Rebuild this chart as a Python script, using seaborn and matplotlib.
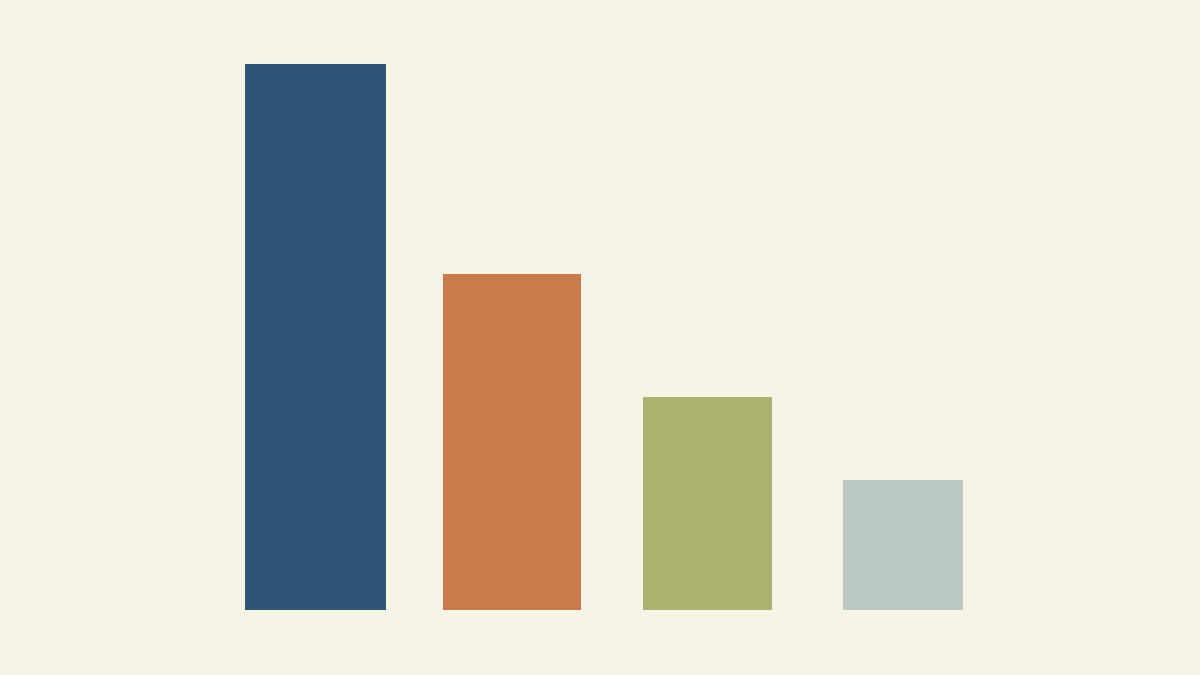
import matplotlib
matplotlib.use("Agg")
import matplotlib.pyplot as plt
import seaborn as sns
import pandas as pd

categories = ["A", "B", "C", "D"]
values = [100, 61.5, 39, 23.8]
colors = ["#2E5578", "#C97C48", "#ABB26F", "#BAC7C4"]
bar_widths = [0.72, 0.705, 0.654, 0.613]

bg = "#F6F3E7"
sns.set_theme(style="white")
df = pd.DataFrame({"cat": categories, "val": values})

fig = plt.figure(figsize=(12, 6.75), dpi=100, facecolor=bg)
ax = fig.add_axes([0, 0, 1, 1])
ax.set_facecolor(bg)
sns.barplot(data=df, x="cat", y="val", hue="cat", palette=colors,
            order=categories, hue_order=categories, legend=False,
            width=0.67, linewidth=0, saturation=1, ax=ax)

for p, w in zip(ax.patches, bar_widths):
    c = p.get_x() + p.get_width() / 2
    p.set_width(w)
    p.set_x(c - w / 2)

ax.set_xlim(-1.6125, 4.515)
ax.set_ylim(-11.9, 111.7)
ax.axis("off")
fig.savefig("out.png", dpi=100, facecolor=bg)
